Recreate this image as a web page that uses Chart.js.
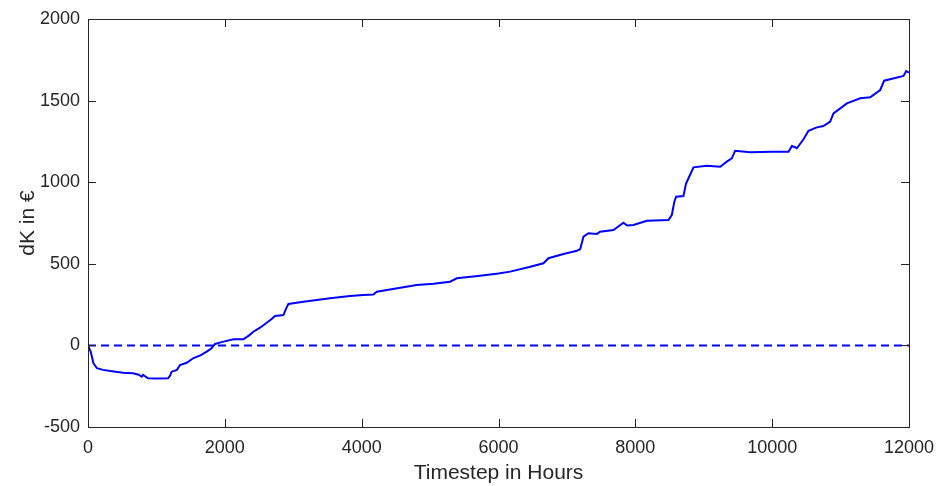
<!DOCTYPE html>
<html>
<head>
<meta charset="utf-8">
<script src="https://cdn.jsdelivr.net/npm/chart.js@4"></script>
<style>
  html, body { margin: 0; padding: 0; background: #fff; }
  canvas { display: block; }
</style>
</head>
<body>
<canvas id="dkChart" width="938" height="486"></canvas>
<script>
// values
const hours = [0, 40, 80, 130, 220, 350, 512, 658, 740, 785, 804, 877, 1000, 1170, 1200, 1223, 1300, 1345, 1450, 1535,
  1650, 1735, 1800, 1857, 1950, 2125, 2271, 2350, 2417, 2520, 2612, 2680, 2734, 2856, 2900, 2929, 3148, 3538, 3830, 4025,
  4171, 4220, 4500, 4805, 5050, 5292, 5390, 5700, 6000, 6170, 6450, 6657, 6730, 6950, 7145, 7193, 7242, 7315, 7437, 7485,
  7680, 7826, 7880, 7972, 8168, 8484, 8533, 8570, 8596, 8703, 8740, 8777, 8850, 9045, 9240, 9337, 9410, 9459, 9678, 10000,
  10239, 10288, 10336, 10361, 10458, 10531, 10653, 10750, 10848, 10896, 11092, 11287, 11433, 11579, 11637, 11920, 11959, 12000];
const dK = [0, -40, -110, -140, -150, -158, -167, -171, -180, -192, -181, -202, -203, -202, -185, -161, -150, -120, -105, -79,
  -60, -38, -20, 9, 20, 37, 37, 60, 84, 110, 139, 160, 180, 186, 230, 254, 268, 289, 303, 309,
  312, 329, 348, 370, 378, 390, 411, 425, 440, 452, 480, 503, 534, 560, 580, 589, 666, 687, 683, 697,
  707, 752, 735, 738, 764, 768, 799, 880, 911, 915, 990, 1024, 1091, 1101, 1095, 1126, 1146, 1193, 1183, 1187,
  1187, 1222, 1214, 1208, 1263, 1315, 1336, 1344, 1371, 1422, 1483, 1514, 1520, 1565, 1622, 1651, 1681, 1671];
const zeroLine = [0, 0];
const zeroHours = [0, 12000];
const xTicks = [0, 2000, 4000, 6000, 8000, 10000, 12000];
const yTicks = [-500, 0, 500, 1000, 1500, 2000];

const axisColor = "#262626";
const fontFamily = "Liberation Sans, Arial";

// matlab style box with inward ticks
const boxPlugin = {
  id: "box",
  afterDraw(chart) {
    const { ctx, chartArea: a, scales } = chart;
    ctx.save();
    ctx.strokeStyle = axisColor;
    ctx.lineWidth = 1;
    ctx.strokeRect(a.left + 0.5, a.top + 0.5, a.right - a.left, a.bottom - a.top);
    ctx.beginPath();
    xTicks.forEach(v => {
      const px = Math.round(scales.x.getPixelForValue(v)) + 0.5;
      ctx.moveTo(px, a.bottom); ctx.lineTo(px, a.bottom - 8);
      ctx.moveTo(px, a.top); ctx.lineTo(px, a.top + 8);
    });
    yTicks.forEach(v => {
      const py = Math.round(scales.y.getPixelForValue(v)) + 0.5;
      ctx.moveTo(a.left, py); ctx.lineTo(a.left + 8, py);
      ctx.moveTo(a.right, py); ctx.lineTo(a.right - 8, py);
    });
    ctx.stroke();
    ctx.restore();
  }
};

new Chart(document.getElementById("dkChart"), {
  type: "line",
  data: {
    datasets: [
      {
        data: hours.map((h, i) => ({ x: h, y: dK[i] })),
        borderColor: "#0000ff",
        borderWidth: 2,
        pointRadius: 0,
        tension: 0
      },
      {
        data: zeroHours.map((h, i) => ({ x: h, y: zeroLine[i] })),
        borderColor: "#0000ff",
        borderWidth: 2,
        borderDash: [8, 5],
        pointRadius: 0
      }
    ]
  },
  options: {
    responsive: false,
    animation: false,
    layout: { padding: { top: 19, right: 0, left: 0, bottom: 0 } },
    plugins: { legend: { display: false }, tooltip: { enabled: false } },
    scales: {
      x: {
        type: "linear",
        min: 0, max: 12000,
        afterBuildTicks: s => { s.ticks = xTicks.map(v => ({ value: v })); },
        afterFit: s => { s.height = 59; s.paddingRight = 29; },
        grid: { display: false },
        border: { display: false },
        ticks: { color: axisColor, maxRotation: 0, padding: 2, callback: v => String(v), font: { family: fontFamily, size: 18 } },
        title: { display: true, text: "Timestep in Hours", color: axisColor, padding: { top: 0, bottom: 0 }, font: { family: fontFamily, size: 21 } }
      },
      y: {
        type: "linear",
        min: -500, max: 2000,
        afterBuildTicks: s => { s.ticks = yTicks.map(v => ({ value: v })); },
        afterFit: s => { s.width = 88; },
        grid: { display: false },
        border: { display: false },
        ticks: { color: axisColor, padding: 0, callback: v => String(v), font: { family: fontFamily, size: 18 } },
        title: { display: true, text: "dK in €", color: axisColor, padding: { top: 16, bottom: 0 }, font: { family: fontFamily, size: 21 } }
      }
    }
  },
  plugins: [boxPlugin]
});
</script>
</body>
</html>
